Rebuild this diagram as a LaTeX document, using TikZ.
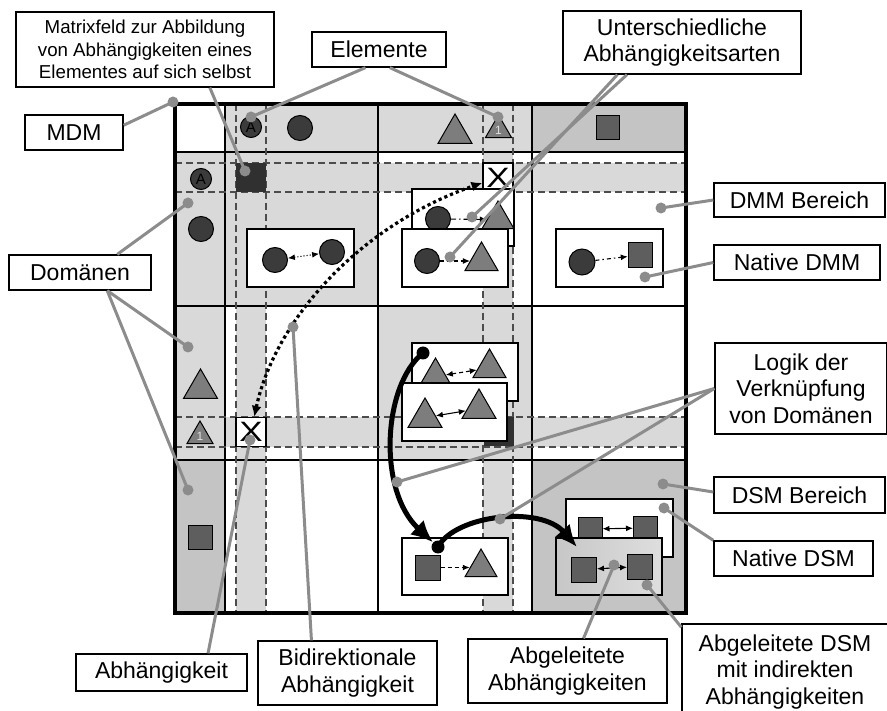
\documentclass[tikz,border=0pt]{standalone}
\usepackage{fontspec}
\setmainfont{Liberation Sans}
\usetikzlibrary{shapes.geometric,arrows.meta,calc}

\definecolor{lightfield}{gray}{0.85}
\definecolor{dsmfield}{gray}{0.77}
\definecolor{calloutgray}{gray}{0.55}
\definecolor{circlefill}{gray}{0.23}
\definecolor{trianglefill}{gray}{0.49}
\definecolor{squarefill}{gray}{0.37}
\definecolor{selffill}{gray}{0.19}
\definecolor{dashgray}{gray}{0.3}
\definecolor{derivedleft}{gray}{0.78}
\definecolor{derivedright}{gray}{0.87}
\definecolor{onecol}{gray}{0.88}

\newcommand\boxtextfont{\fontsize{23}{26.5}\selectfont}
\newcommand\boxtextsmall{\fontsize{18.7}{22.5}\selectfont}
\newcommand\onefont{\fontsize{12}{12}\selectfont}
\newcommand\afont{\fontsize{15}{15}\selectfont}
\newcommand\xfont{\fontsize{28}{28}\selectfont}

\tikzset{
  lbl/.style={draw, line width=1.3, fill=white, inner sep=0pt, align=center, font=\boxtextfont},
  callout/.style={draw=calloutgray, line width=3},
  cdot/.style={circle, fill=calloutgray, inner sep=0pt, minimum size=11},
  elcircle/.style={circle, draw, fill=circlefill, line width=1, inner sep=0pt, minimum size=25},
  acircle/.style={elcircle, minimum size=21, font=\afont},
  eltri/.style={regular polygon, regular polygon sides=3, draw, fill=trianglefill, line width=1, inner sep=0pt, minimum size={1.1547*#1}},
  onetri/.style={eltri=#1, font=\onefont, text=onecol},
  elsquare/.style={rectangle, draw, fill=squarefill, line width=1, inner sep=0pt, minimum size=#1},
  relbox/.style={rectangle, draw, fill=white, line width=1.3, inner sep=0pt},
  rel/.style={line width=1.1, >={Latex[length=7pt,width=6pt]}},
  gridsolid/.style={line width=1.2},
  griddash/.style={draw=dashgray, line width=1.1, dash pattern=on 7pt off 4pt},
  xcell/.style={rectangle, draw, fill=white, line width=1.2, inner sep=0pt, minimum width=30, minimum height=29, font=\xfont},
  selfcell/.style={rectangle, fill=selffill, inner sep=0pt, minimum width=30, minimum height=29},
  bigarrow/.style={line width=5, -{Latex[length=22pt,width=20pt]}},
  bigdot/.style={circle, fill=black, inner sep=0pt, minimum size=13},
  dotarrow/.style={line width=3.2, dash pattern=on 3.2pt off 3pt, {Latex[length=11pt,width=10pt]}-{Latex[length=11pt,width=10pt]}},
  mdmframe/.style={draw, line width=4, inner sep=0pt, minimum width=511, minimum height=509}
}

\begin{document}
\begin{tikzpicture}[x=1pt,y=-1pt]
\useasboundingbox (0,0) rectangle (887,711);

% ---------- matrix fields ----------
\fill[white] (175,104) rectangle (686,613);
\fill[lightfield] (225,104) rectangle (532,152);
\fill[dsmfield] (532,104) rectangle (686,152);
\fill[lightfield] (175,152) rectangle (225,460);
\fill[dsmfield] (175,460) rectangle (225,613);
\fill[lightfield] (225,152) rectangle (378,306);
\fill[lightfield] (378,306) rectangle (532,460);
\fill[dsmfield] (532,460) rectangle (686,613);
% highlighted element strips
\fill[lightfield] (236,104) rectangle (266,613);
\fill[lightfield] (483,104) rectangle (513,613);
\fill[lightfield] (175,163) rectangle (686,192);
\fill[lightfield] (175,417) rectangle (686,447);

% ---------- grid ----------
\foreach \gx in {225,378,532} \draw[gridsolid] (\gx,104) -- (\gx,613);
\foreach \gy in {152,306,460} \draw[gridsolid] (175,\gy) -- (686,\gy);
\foreach \gx in {236,266,483,513} \draw[griddash] (\gx,104) -- (\gx,613);
\foreach \gy in {163,192,417,447} \draw[griddash] (175,\gy) -- (686,\gy);

% ---------- self cells and single dependencies ----------
\node[selfcell] (selfA) at (251,177.5) {};
\node[selfcell] (self1) at (498.5,431.5) {};
\node[xcell] (xA1) at (498,177.5) {\scalebox{1.25}[1]{X}};
\node[xcell] (x1A) at (251,432) {\scalebox{1.25}[1]{X}};

% ---------- element headers ----------
\node[acircle] (hA) at (251,127) {A};
\node[elcircle] (hC) at (300,128) {};
\node[eltri=34] (hT) at (455,133.6) {};
\node[onetri=26] (h1) at (498.5,130) {1};
\node[elsquare=23.5] (hS) at (608,127.5) {};

\node[acircle] (cA) at (201,179) {A};
\node[elcircle] (cC) at (201,229) {};
\node[eltri=34] (cT) at (200.5,388.6) {};
\node[onetri=26] (c1) at (200,436) {1};
\node[elsquare=24] (cS) at (200.5,537) {};

% ---------- domain 1 x domain 1 ----------
\node[relbox, minimum width=107, minimum height=58] (b11) at (300.5,258) {};
\node[elcircle] (b11a) at (275,260) {};
\node[elcircle] (b11b) at (332,252) {};
\draw[rel, <->, dotted] (b11a) -- (b11b);

% ---------- domain 1 x domain 2 ----------
\node[relbox, minimum width=102, minimum height=57] (b12r) at (463,217.5) {};
\node[elcircle] (b12ra) at (438,219) {};
\node[eltri=32] (b12rb) at (498,219.5) {};
\draw[rel, ->, dash pattern=on 5pt off 3pt on 1.5pt off 3pt] (b12ra) -- (b12rb);
\node[relbox, minimum width=106, minimum height=58] (b12f) at (455,258) {};
\node[elcircle] (b12fa) at (427,261) {};
\node[eltri=33] (b12fb) at (481.5,261) {};
\draw[rel, ->, dash pattern=on 4pt off 3pt] (b12fa) -- (b12fb);

% ---------- domain 1 x domain 3 ----------
\node[relbox, minimum width=107, minimum height=58] (b13) at (609.5,258) {};
\node[elcircle, minimum size=26] (b13a) at (582,262) {};
\node[elsquare=24.5] (b13b) at (640.5,255) {};
\draw[rel, ->, dash pattern=on 4pt off 3pt on 1.5pt off 3pt] (b13a) -- (b13b);

% ---------- domain 2 x domain 2 ----------
\node[relbox, minimum width=106, minimum height=58] (b22r) at (465,372) {};
\node[eltri=32] (b22ra) at (435.5,376.5) {};
\node[eltri=33] (b22rb) at (489.5,368) {};
\draw[rel, <->, dash pattern=on 4pt off 3pt] (b22ra) -- (b22rb);
\node[relbox, minimum width=105, minimum height=58] (b22f) at (454.5,412) {};
\node[eltri=34] (b22fa) at (425,417.6) {};
\node[eltri=34] (b22fb) at (479,408.6) {};
\draw[rel, <->] (b22fa) -- (b22fb);

% ---------- domain 3 x domain 2 ----------
\node[relbox, minimum width=106, minimum height=57] (b32) at (455,566.5) {};
\node[elsquare=25] (b32a) at (427.5,567.5) {};
\node[eltri=32] (b32b) at (481,567.5) {};
\draw[rel, ->, dash pattern=on 4pt off 3pt] (b32a) -- (b32b);

% ---------- domain 3 x domain 3 ----------
\node[relbox, minimum width=107, minimum height=58] (b33r) at (619.5,528) {};
\node[elsquare=24] (b33ra) at (590,529) {};
\node[elsquare=24] (b33rb) at (645.5,528) {};
\draw[rel, <->] (b33ra) -- (b33rb);
\node[relbox, left color=derivedleft, right color=derivedright, minimum width=106, minimum height=57] (b33f) at (609,566.5) {};
\node[elsquare=25] (b33fa) at (584,569.5) {};
\node[elsquare=25] (b33fb) at (640,566.5) {};
\draw[rel, <->] (b33fa) -- (b33fb);

% ---------- derivation arrows ----------
\node[bigdot] (k1) at (423,353) {};
\node[bigdot] (k2) at (438,547) {};
\coordinate (k3) at (577,547);
\draw[bigarrow] (k1.center) .. controls (383,385) and (377,490) .. (k2);
\draw[bigarrow] (k2.center) .. controls (455,515) and (540,505) .. (k3);

% bidirectional dependency between element A and element 1
\draw[dotarrow] (x1A) .. controls (275,320) and (360,225) .. (xA1);

% ---------- outer frame ----------
\node[mdmframe] (frame) at (430.5,358.5) {};

% ---------- labels ----------
\node[lbl, font=\boxtextsmall, minimum width=258, minimum height=75] (mat) at (145,49.5) {Matrixfeld zur Abbildung\\von Abhängigkeiten eines\\Elementes auf sich selbst};
\node[lbl, minimum width=98, minimum height=35] (mdm) at (74,132.5) {MDM};
\node[lbl, minimum width=134, minimum height=35] (elem) at (379,49.5) {Elemente};
\node[lbl, minimum width=238, minimum height=63] (unter) at (682,42.5) {Unterschiedliche\\Abhängigkeitsarten};
\node[lbl, minimum width=171, minimum height=34] (dmmb) at (799.5,200) {DMM Bereich};
\node[lbl, minimum width=166, minimum height=35] (ndmm) at (797,262.5) {Native DMM};
\node[lbl, minimum width=142, minimum height=35] (dom) at (80,272.5) {Domänen};
\node[lbl, minimum width=172, minimum height=91] (logik) at (801,388.5) {Logik der\\Verknüpfung\\von Domänen};
\node[lbl, minimum width=171, minimum height=36] (dsmb) at (799.5,495) {DSM Bereich};
\node[lbl, minimum width=159, minimum height=35] (ndsm) at (793.5,558.5) {Native DSM};
\node[lbl, minimum width=206, minimum height=96] (abgdsm) at (785,672) {Abgeleitete DSM\\mit indirekten\\Abhängigkeiten};
\node[lbl, minimum width=199, minimum height=64] (abgab) at (567.5,671) {Abgeleitete\\Abhängigkeiten};
\node[lbl, minimum width=179, minimum height=64] (bidi) at (347.5,673) {Bidirektionale\\Abhängigkeit};
\node[lbl, minimum width=171, minimum height=37] (abh) at (161.5,672.5) {Abhängigkeit};

% ---------- callout targets ----------
\node[cdot] (dmdm) at (frame.north west) {};
\node[cdot] (dmat) at (245,171) {};
\node[cdot] (delA) at (251,117) {};
\node[cdot] (del1) at (498,117) {};
\node[cdot] (dun1) at (472,217) {};
\node[cdot] (dun2) at (450,257) {};
\node[cdot] (ddmmb) at (661,208) {};
\node[cdot] (dndmm) at (645,277) {};
\node[cdot] (ddom1) at (188,203) {};
\node[cdot] (ddom2) at (188,347) {};
\node[cdot] (ddom3) at (188,490) {};
\node[cdot] (dlog1) at (397,482) {};
\node[cdot] (dlog2) at (500,519) {};
\node[cdot] (ddsmb) at (663,484) {};
\node[cdot] (dndsm) at (664,508) {};
\node[cdot] (dabgdsm) at (647,585) {};
\node[cdot] (dabgab) at (614,565) {};
\node[cdot] (dbidi) at (293,327) {};
\node[cdot] (dabh) at (250,440) {};

% ---------- callout lines ----------
\draw[callout] ($(mdm.north east)!0.3!(mdm.south east)$) -- (dmdm.center);
\draw[callout] ($(mat.south west)!0.75!(mat.south east)$) -- (dmat.center);
\draw[callout] ($(elem.south west)!0.4!(elem.south east)$) -- (delA.center);
\draw[callout] ($(elem.south west)!0.58!(elem.south east)$) -- (del1.center);
\draw[callout] ($(unter.south west)!0.27!(unter.south east)$) -- (dun1.center);
\draw[callout] ($(unter.south west)!0.23!(unter.south east)$) -- (dun2.center);
\draw[callout] (dmmb.west) -- (ddmmb.center);
\draw[callout] (ndmm.west) -- (dndmm.center);
\draw[callout] ($(dom.north west)!0.76!(dom.north east)$) -- (ddom1.center);
\draw[callout] ($(dom.south west)!0.69!(dom.south east)$) -- (ddom2.center);
\draw[callout] ($(dom.south west)!0.69!(dom.south east)$) -- (ddom3.center);
\draw[callout] (logik.west) -- (dlog1.center);
\draw[callout] (logik.west) -- (dlog2.center);
\draw[callout] ($(dsmb.north west)!0.42!(dsmb.south west)$) -- (ddsmb.center);
\draw[callout] (ndsm.north west) -- (dndsm.center);
\draw[callout] ($(abgdsm.north west)!0.04!(abgdsm.south west)$) -- (dabgdsm.center);
\draw[callout] ($(abgab.north west)!0.58!(abgab.north east)$) -- (dabgab.center);
\draw[callout] ($(bidi.north west)!0.3!(bidi.north east)$) -- (dbidi.center);
\draw[callout] ($(abh.north west)!0.77!(abh.north east)$) -- (dabh.center);
\end{tikzpicture}
\end{document}
